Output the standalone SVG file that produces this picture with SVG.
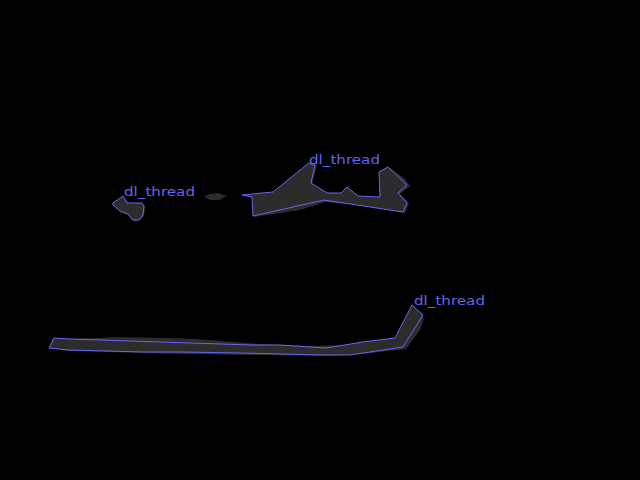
<svg xmlns="http://www.w3.org/2000/svg" width="640" height="480" viewBox="0 0 640 480">
<style>
.mask{fill:#2c2c2c;stroke:none}
.outline{fill:#2c2c2c;stroke:#6666f2;stroke-width:1;stroke-linejoin:round}
.lbl{font-family:"DejaVu Sans",sans-serif;font-size:13px;fill:#6464ee}
</style>
<rect width="640" height="480" fill="#000"/>
<g id="thread-left">
<polygon class="mask" points="114,204 123,197 128,203 142,203 145,207 144,216 139,221 133,221 128,215 120,212"/>
<polygon class="outline" points="113,203 123,196 127,203 142,203 144,206 143,215 139,220 133,220 128,214 120,211 113,205"/>
<text class="lbl" x="124" y="196" textLength="71" lengthAdjust="spacingAndGlyphs">dl_thread</text>
</g>
<g id="blob-small">
<polygon class="mask" points="204,196.5 210,194 218,193 227,196 219,200 210,200"/>
</g>
<g id="thread-upper">
<polygon class="mask" points="244,196 254,198 254,217 300,210 325,202 360,205 405,213 409,203 400,194 410,186 404,178 390,168 381,174 382,198 358,197 348,188 342,194 328,195 312,184 317,165 309,164 274,193"/>
<polygon class="outline" points="242,195 252,197 253,216 324,200 403,212 407,203 398,193 407,185 388,167 379,172 380,197 358,196 347,187 341,193 327,193 311,183 315,165 309,163 273,192"/>
<text class="lbl" x="309" y="164" textLength="71" lengthAdjust="spacingAndGlyphs">dl_thread</text>
</g>
<g id="thread-lower">
<polygon class="mask" points="52,339 98,338 118,337 167,338 197,339 260,344 310,346 345,345 365,341 396,338 413,307 424,318 420,330 406,349 362,354 330,356 260,355 182,354 107,352 68,351 50,348"/>
<polygon class="outline" points="54,338 70,339 130,341 190,343 252,345 280,345 310,347 326,348 363,342 395,338 412,305 423,315 403,347 350,355 323,355 240,353 182,352 143,352 107,351 68,350 49,348"/>
<text class="lbl" x="414" y="305" textLength="71" lengthAdjust="spacingAndGlyphs">dl_thread</text>
</g>
</svg>
